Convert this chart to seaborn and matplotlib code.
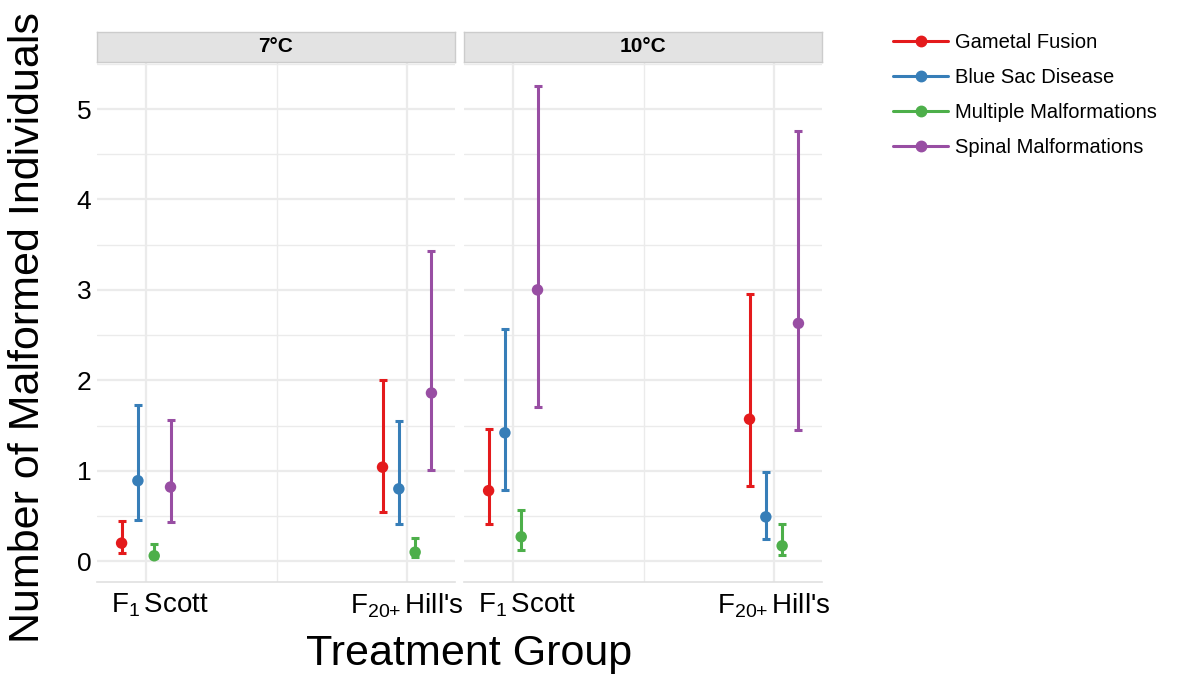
import matplotlib
matplotlib.use("Agg")
import matplotlib.pyplot as plt
import matplotlib.transforms as mtransforms
from matplotlib.lines import Line2D
import numpy as np
import pandas as pd
import seaborn as sns

# values
temps = ["7°C", "10°C"]
groups = ["F1 Scott", "F20+ Hill's"]
group_labels = [r"F$_{1}\,$Scott", r"F$_{20{+}}\,$Hill's"]
malformations = ["Gametal Fusion", "Blue Sac Disease",
                 "Multiple Malformations", "Spinal Malformations"]

# one value per malformation, in the order above
mean_7_scott = [0.20, 0.89, 0.06, 0.82]
low_7_scott = [0.09, 0.46, 0.03, 0.43]
high_7_scott = [0.44, 1.73, 0.19, 1.56]

mean_7_hills = [1.04, 0.80, 0.10, 1.86]
low_7_hills = [0.54, 0.41, 0.05, 1.01]
high_7_hills = [2.00, 1.55, 0.26, 3.43]

mean_10_scott = [0.78, 1.42, 0.27, 3.00]
low_10_scott = [0.41, 0.785, 0.125, 1.71]
high_10_scott = [1.46, 2.57, 0.57, 5.26]

mean_10_hills = [1.57, 0.49, 0.17, 2.63]
low_10_hills = [0.83, 0.24, 0.07, 1.45]
high_10_hills = [2.95, 0.99, 0.41, 4.76]

palette = ["#E41A1C", "#377EB8", "#4DAF4A", "#984EA3"]

rows = []
blocks = [
    ("7°C", "F1 Scott", mean_7_scott, low_7_scott, high_7_scott),
    ("7°C", "F20+ Hill's", mean_7_hills, low_7_hills, high_7_hills),
    ("10°C", "F1 Scott", mean_10_scott, low_10_scott, high_10_scott),
    ("10°C", "F20+ Hill's", mean_10_hills, low_10_hills, high_10_hills),
]
for temp, grp, m, lo, hi in blocks:
    for name, mv, lv, hv in zip(malformations, m, lo, hi):
        rows.append({"temp": temp, "group": grp, "type": name,
                     "mean": mv, "low": lv, "high": hv})
df = pd.DataFrame(rows)

sns.set_theme(style="white")
plt.rcParams["font.family"] = ["Liberation Sans", "DejaVu Sans"]
plt.rcParams["mathtext.fontset"] = "custom"
plt.rcParams["mathtext.rm"] = "Liberation Sans"
plt.rcParams["mathtext.it"] = "Liberation Sans"
plt.rcParams["text.color"] = "black"
plt.rcParams["xtick.color"] = "black"
plt.rcParams["ytick.color"] = "black"

W, H = 1179, 674
fig = plt.figure(figsize=(W / 100, H / 100), dpi=100)

# position_dodge-like spread of the four malformation types
dodge = 0.0625
offsets = {name: (i - 1.5) * dodge for i, name in enumerate(malformations)}
df["x"] = df["group"].map({g: i for i, g in enumerate(groups)}) + df["type"].map(offsets)

panel_left = [97, 464]
panel_w = 358
panel_top, panel_bot = 62, 582
grid_c = "#EBEBEB"
# the "Scott" labels sit a little right of their tick in the original
label_shift_pt = [10, 0]

for k, temp in enumerate(temps):
    ax = fig.add_axes([panel_left[k] / W, (H - panel_bot) / H,
                       panel_w / W, (panel_bot - panel_top) / H])
    sub = df[df["temp"] == temp]
    for name, color in zip(malformations, palette):
        s = sub[sub["type"] == name]
        ax.errorbar(s["x"], s["mean"],
                    yerr=[s["mean"] - s["low"], s["high"] - s["mean"]],
                    fmt="none", ecolor=color, elinewidth=2.2, capsize=2.6,
                    capthick=2.2, zorder=3)
    sns.scatterplot(data=sub, x="x", y="mean", hue="type", palette=palette,
                    hue_order=malformations, s=68, edgecolor="none",
                    legend=False, ax=ax, zorder=4)
    ax.set_xlim(-0.188, 1.184)
    ax.set_ylim(-0.23, 5.52)
    ax.set_xticks(range(len(groups)))
    ax.set_xticks([0.5], minor=True)
    ax.set_xticklabels([])
    base = ax.get_xaxis_transform()
    for i, lab in enumerate(group_labels):
        tr = mtransforms.offset_copy(base, fig=fig, x=label_shift_pt[i],
                                     y=-7, units="points")
        ax.text(i, 0, lab, transform=tr, ha="center", va="top", fontsize=20)
    ax.set_yticks(range(6))
    ax.set_yticks(np.arange(0.5, 5.6, 1.0), minor=True)
    ax.grid(True, which="major", color=grid_c, lw=1.6)
    ax.grid(True, which="minor", color=grid_c, lw=1.0)
    ax.set_axisbelow(True)
    ax.tick_params(axis="both", which="both", length=0)
    ax.tick_params(axis="y", labelsize=19, pad=4)
    for side in ["top", "right", "left"]:
        ax.spines[side].set_visible(False)
    ax.spines["bottom"].set_color("#E0E0E0")
    ax.spines["bottom"].set_linewidth(1.2)
    ax.set_xlabel("")
    ax.set_ylabel("")
    if k > 0:
        ax.set_yticklabels([])

    # facet strip
    sax = fig.add_axes([panel_left[k] / W, (H - 62) / H, panel_w / W, 30 / H])
    sax.set_facecolor("#E3E3E3")
    sax.set_xticks([])
    sax.set_yticks([])
    for sp in sax.spines.values():
        sp.set_color("#CCCCCC")
        sp.set_linewidth(1.0)
    sax.text(0.5, 0.5, temp, ha="center", va="center", fontsize=15,
             fontweight="bold", transform=sax.transAxes)

fig.text(28 / W, (H - 328) / H, "Number of Malformed Individuals",
         rotation=90, ha="center", va="center", fontsize=31)
fig.text(469 / W, (H - 654) / H, "Treatment Group", ha="center", va="center",
         fontsize=31)

handles = [Line2D([0], [0], color=c, lw=2.2, marker="o", markersize=7.5)
           for c in palette]
fig.legend(handles, malformations, loc="upper left",
           bbox_to_anchor=(893 / W, (H - 33) / H), frameon=False,
           borderpad=0, borderaxespad=0,
           fontsize=14.5, handlelength=2.75, handletextpad=0.35,
           labelspacing=0.8)

fig.savefig("out.png", dpi=100)
